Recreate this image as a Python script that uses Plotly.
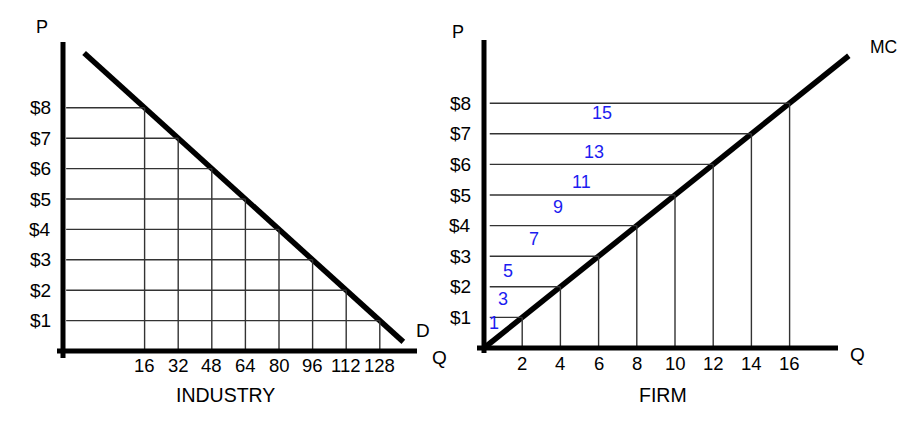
import numpy as np
import plotly.graph_objects as go

# ---------------- data ----------------
prices = [1, 2, 3, 4, 5, 6, 7, 8]
price_labels = ["$1", "$2", "$3", "$4", "$5", "$6", "$7", "$8"]
industry_q = [128, 112, 96, 80, 64, 48, 32, 16]      # quantity demanded at each price
firm_q = [2, 4, 6, 8, 10, 12, 14, 16]                # firm output where MC = price
mc_labels = [1, 3, 5, 7, 9, 11, 13, 15]              # marginal cost of each extra unit band

# ---------------- layout constants ----------------
OFF = 8                       # default page body margin
W, H = 920 - 2 * OFF, 422 - 2 * OFF
FONT = "Liberation Sans, Arial, sans-serif"
BLUE = "#1c1cf0"
GRID = "#333333"

# pixel placement (page pixels) of the two panels (plot areas)
L_px = (50, 425, 35, 362)   # x0, x1, ytop, ybottom
R_px = (470, 862, 35, 362)

# linear scale parameters (pixel origin, px per unit)
L_q0, L_qs, L_p0, L_ps = 111, 2.1, 351, 30.4
R_q0, R_qs, R_p0, R_ps = 484, 19.1, 348, 30.6

def ranges(px, q0, qs, p0, ps):
    x0, x1, yt, yb = px
    return [(x0 - q0) / qs, (x1 - q0) / qs], [(p0 - yb) / ps, (p0 - yt) / ps]

Lxr, Lyr = ranges(L_px, L_q0, L_qs, L_p0, L_ps)
Rxr, Ryr = ranges(R_px, R_q0, R_qs, R_p0, R_ps)

def dom(px):
    x0, x1, yt, yb = px
    return [(x0 - OFF) / W, (x1 - OFF) / W], [1 - (yb - OFF) / H, 1 - (yt - OFF) / H]

Ldx, Ldy = dom(L_px)
Rdx, Rdy = dom(R_px)

fig = go.Figure()

# ---------------- INDUSTRY panel ----------------
d_slope, d_int = np.polyfit(prices, industry_q, 1)    # Q = a*P + b
d_p = np.array([9.8, 0.3])
fig.add_trace(go.Scatter(x=d_slope * d_p + d_int, y=d_p, mode="lines",
                         line=dict(color="black", width=5.5), xaxis="x", yaxis="y",
                         hoverinfo="skip", showlegend=False))

L_axis_q = (63 - L_q0) / L_qs      # Q value where the vertical axis sits
gx, gy = [], []
for p, q in zip(prices, industry_q):
    gx += [L_axis_q + 1.5, q, None, q, q, None]
    gy += [p, p, None, 0, p, None]
fig.add_trace(go.Scatter(x=gx, y=gy, mode="lines", line=dict(color=GRID, width=1.4),
                         xaxis="x", yaxis="y", hoverinfo="skip", showlegend=False))

# ---------------- FIRM panel ----------------
m_slope, m_int = np.polyfit(firm_q, prices, 1)        # P = a*Q + b
m_q = np.array([0, 19.1])
fig.add_trace(go.Scatter(x=m_q, y=m_slope * m_q + m_int, mode="lines",
                         line=dict(color="black", width=5.5), xaxis="x2", yaxis="y2",
                         hoverinfo="skip", showlegend=False))

gx, gy = [], []
for p, q in zip(prices, firm_q):
    gx += [0.3, q, None, q, q, None]
    gy += [p, p, None, 0, p, None]
fig.add_trace(go.Scatter(x=gx, y=gy, mode="lines", line=dict(color=GRID, width=1.4),
                         xaxis="x2", yaxis="y2", hoverinfo="skip", showlegend=False))

# ---------------- axis lines (thick) ----------------
shapes = [
    dict(type="line", xref="x", yref="y", x0=L_axis_q, x1=L_axis_q,
         y0=(L_p0 - 358) / L_ps, y1=(L_p0 - 42) / L_ps, line=dict(color="black", width=5)),
    dict(type="line", xref="x", yref="y", x0=(57 - L_q0) / L_qs, x1=(417 - L_q0) / L_qs,
         y0=0, y1=0, line=dict(color="black", width=5)),
    dict(type="line", xref="x2", yref="y2", x0=0, x1=0,
         y0=(R_p0 - 353) / R_ps, y1=(R_p0 - 40) / R_ps, line=dict(color="black", width=5)),
    dict(type="line", xref="x2", yref="y2", x0=(477 - R_q0) / R_qs, x1=(838 - R_q0) / R_qs,
         y0=0, y1=0, line=dict(color="black", width=5)),
]

# ---------------- text ----------------
ann = []
def txt(text, x, y, xref, yref, size=18, color="black", xanchor="center",
        yanchor="middle", xshift=0, yshift=0):
    ann.append(dict(text=text, x=x, y=y, xref=xref, yref=yref, showarrow=False,
                    font=dict(family=FONT, size=size, color=color),
                    xanchor=xanchor, yanchor=yanchor, xshift=xshift, yshift=yshift))

for p, lab in zip(prices, price_labels):
    txt(lab, L_axis_q, p, "x", "y", size=19, xanchor="right", xshift=-10)
    txt(lab, 0, p, "x2", "y2", size=19, xanchor="right", xshift=-11)
for q in industry_q:
    txt(str(q), q, 0, "x", "y", size=18.5, yshift=-14)
for q in firm_q:
    txt(str(q), q, 0, "x2", "y2", size=18.5, yshift=-15)

# blue marginal cost numbers (label placement in Q / P units)
mc_label_q = [0.52, 0.99, 1.26, 2.62, 3.87, 5.08, 5.76, 6.17]
mc_label_p = [0.82, 1.6, 2.52, 3.57, 4.61, 5.42, 6.4, 7.68]
for v, lq, lp in zip(mc_labels, mc_label_q, mc_label_p):
    txt(str(v), lq, lp, "x2", "y2", size=18, color=BLUE)

def ptxt(text, px, py, size=18):
    txt(text, (px - OFF) / W, 1 - (py - OFF) / H, "paper", "paper", size=size)

ptxt("P", 42, 27, 18)
ptxt("D", 423, 330, 19)
ptxt("Q", 439, 357, 19)
ptxt("INDUSTRY", 225, 395, 19.5)
ptxt("P", 458, 32, 18)
ptxt("MC", 883, 47, 17.5)
ptxt("Q", 857, 354, 19)
ptxt("FIRM", 663, 395, 19.5)

ax_common = dict(visible=False, showgrid=False, zeroline=False, fixedrange=True)
fig.update_layout(
    width=W, height=H, margin=dict(l=0, r=0, t=0, b=0),
    paper_bgcolor="white", plot_bgcolor="rgba(0,0,0,0)",
    xaxis=dict(domain=Ldx, range=Lxr, **ax_common),
    yaxis=dict(domain=Ldy, range=Lyr, **ax_common),
    xaxis2=dict(domain=Rdx, range=Rxr, anchor="y2", **ax_common),
    yaxis2=dict(domain=Rdy, range=Ryr, anchor="x2", **ax_common),
    shapes=shapes, annotations=ann, showlegend=False,
)

fig.write_html("out.html", config={"displayModeBar": False})
